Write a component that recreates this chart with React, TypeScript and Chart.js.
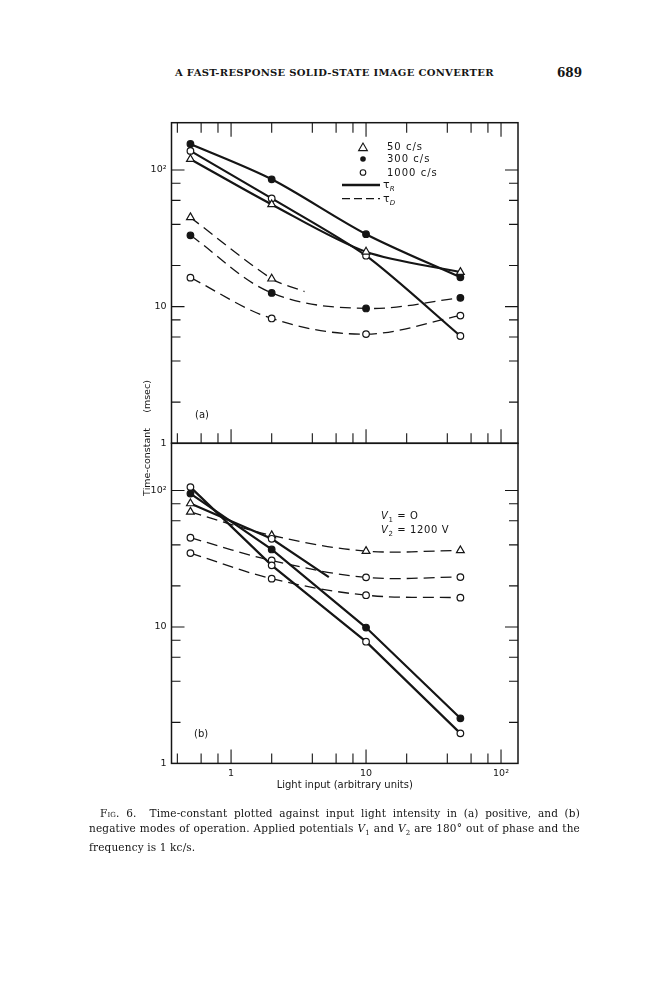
import { useEffect, useRef } from 'react';
import { Chart, registerables } from 'chart.js';

Chart.register(...registerables);

// light input (arbitrary units) at which the points were measured
const lightInput = [0.5, 2, 10, 50];

// (a) positive mode, time-constant in msec
const aRise50 = [120, 56, 25.2, 17.9];
const aRise300 = [155, 85.5, 33.9, 16.4];
const aRise1000 = [138, 62, 23.6, 6.1];
const aDecay50X = [0.5, 2, 3.5];
const aDecay50 = [45, 16, 12.9];
const aDecay300 = [33.3, 12.6, 9.7, 11.6];
const aDecay1000 = [16.3, 8.2, 6.3, 8.6];

// (b) negative mode
const bRise50X = [0.5, 2, 5.3];
const bRise50 = [80.4, 44.3, 23.2];
const bRise300 = [95, 37, 9.9, 2.14];
const bRise1000 = [106, 28.3, 7.8, 1.66];
const bDecay50 = [69.8, 46.9, 36, 36.4];
const bDecayMid = [45.1, 30.7, 23.1, 23.2];
const bDecayLow = [34.8, 22.6, 17.1, 16.4];

const xTicks = [0.4, 0.6, 0.8, 1, 2, 4, 6, 8, 10, 20, 40, 60, 80, 100];
const yTicks = [1, 2, 4, 6, 8, 10, 20, 40, 60, 80, 100];
const decadeLabels: Record<number, string> = { 1: '1', 10: '10', 100: '10²' };

const INK = '#151515';
const SANS = 'DejaVu Sans';
const SERIF = 'DejaVu Serif';

type Mark = 'tri' | 'dot' | 'ring' | 'none';

function series(label: string, xs: number[], ys: number[], marks: Mark[], dashed: boolean, tension: number) {
  return {
    label,
    data: xs.map((x, i) => ({ x, y: ys[i] })),
    borderColor: INK,
    borderWidth: dashed ? 1.3 : 2.2,
    borderDash: dashed ? [11, 6] : [],
    tension,
    fill: false,
    pointStyle: marks.map(m => (m === 'tri' ? 'triangle' : 'circle')),
    pointRadius: marks.map(m => (m === 'tri' ? 4.5 : m === 'none' ? 0 : 3.3)),
    pointBackgroundColor: marks.map(m => (m === 'dot' ? INK : '#fff')),
    pointBorderColor: INK,
    pointBorderWidth: 1.2,
  };
}

const panelA = () => [
  series('50 c/s τR', lightInput, aRise50, ['tri', 'tri', 'tri', 'tri'], false, 0.3),
  series('300 c/s τR', lightInput, aRise300, ['dot', 'dot', 'dot', 'dot'], false, 0.3),
  series('1000 c/s τR', lightInput, aRise1000, ['ring', 'ring', 'ring', 'ring'], false, 0.25),
  series('50 c/s τD', aDecay50X, aDecay50, ['tri', 'tri', 'none'], true, 0.3),
  series('300 c/s τD', lightInput, aDecay300, ['dot', 'dot', 'dot', 'dot'], true, 0.35),
  series('1000 c/s τD', lightInput, aDecay1000, ['ring', 'ring', 'ring', 'ring'], true, 0.35),
];

const panelB = () => [
  series('τR', bRise50X, bRise50, ['tri', 'ring', 'none'], false, 0),
  series('τR', lightInput, bRise300, ['dot', 'dot', 'dot', 'dot'], false, 0),
  series('τR', lightInput, bRise1000, ['ring', 'ring', 'ring', 'ring'], false, 0),
  series('τD', lightInput, bDecay50, ['tri', 'tri', 'tri', 'tri'], true, 0.35),
  series('τD', lightInput, bDecayMid, ['ring', 'ring', 'ring', 'ring'], true, 0.35),
  series('τD', lightInput, bDecayLow, ['ring', 'ring', 'ring', 'ring'], true, 0.35),
];

// box around the plot with ticks pointing inwards
const frame = {
  id: 'frame',
  afterDatasetsDraw(chart: any, _args: any, opts: any) {
    const { ctx, chartArea, scales } = chart;
    const { left, right, top, bottom } = chartArea;
    ctx.save();
    ctx.strokeStyle = INK;
    ctx.lineWidth = 1.5;
    ctx.strokeRect(left, top, right - left, bottom - top);
    ctx.lineWidth = 1.1;
    ctx.beginPath();
    xTicks.forEach(v => {
      const px = scales.x.getPixelForValue(v);
      const len = decadeLabels[v] ? 14 : 10;
      if (opts.top) {
        ctx.moveTo(px, top);
        ctx.lineTo(px, top + len);
      }
      ctx.moveTo(px, bottom);
      ctx.lineTo(px, bottom - len);
    });
    yTicks.forEach(v => {
      if (v === 1) return;
      const py = scales.y.getPixelForValue(v);
      const len = decadeLabels[v] ? 13 : 9;
      ctx.moveTo(left, py);
      ctx.lineTo(left + len, py);
      ctx.moveTo(right, py);
      ctx.lineTo(right - len, py);
    });
    ctx.stroke();
    ctx.restore();
  },
};

type PanelProps = {
  build: () => any[];
  left: number;
  top: number;
  width: number;
  height: number;
  padding: { left: number; right: number; top: number; bottom: number };
  showX: boolean;
  topTicks: boolean;
};

function Panel({ build, left, top, width, height, padding, showX, topTicks }: PanelProps) {
  const canvasRef = useRef<HTMLCanvasElement>(null);

  useEffect(() => {
    if (!canvasRef.current) return;
    const tickFont = { family: SANS, size: 9.5 };
    const chart = new Chart(canvasRef.current, {
      type: 'line',
      data: { datasets: build() },
      options: {
        animation: false,
        responsive: true,
        maintainAspectRatio: false,
        layout: { padding },
        plugins: {
          legend: { display: false },
          tooltip: { enabled: false },
          frame: { top: topTicks },
        } as any,
        scales: {
          x: {
            type: 'logarithmic',
            min: 0.362,
            max: 133.6,
            display: showX,
            afterBuildTicks: (s: any) => {
              s.ticks = xTicks.map(v => ({ value: v }));
            },
            afterFit: (s: any) => {
              if (showX) s.height = 30;
            },
            ticks: {
              autoSkip: false,
              maxRotation: 0,
              padding: 4,
              color: INK,
              font: tickFont,
              callback: (v: any) => decadeLabels[v] ?? '',
            },
            grid: { display: false, drawTicks: false },
            border: { display: false },
            title: {
              display: showX,
              text: 'Light input (arbitrary units)',
              color: INK,
              font: { family: SANS, size: 10 },
              padding: { top: 0, bottom: 2 },
            },
          },
          y: {
            type: 'logarithmic',
            min: 1,
            max: 222,
            afterBuildTicks: (s: any) => {
              s.ticks = yTicks.map(v => ({ value: v }));
            },
            afterFit: (s: any) => {
              s.width = 36;
            },
            ticks: {
              autoSkip: false,
              padding: 5,
              color: INK,
              font: tickFont,
              callback: (v: any) => decadeLabels[v] ?? '',
            },
            grid: { display: false, drawTicks: false },
            border: { display: false },
          },
        },
      } as any,
      plugins: [frame],
    });
    return () => chart.destroy();
  }, []);

  return (
    <div style={{ position: 'absolute', left, top, width, height }}>
      <canvas ref={canvasRef} />
    </div>
  );
}

function Txt({ x, y, children, style }: { x: number; y: number; children: any; style?: any }) {
  return (
    <div
      style={{
        position: 'absolute',
        left: x,
        top: y,
        transform: 'translateY(-50%)',
        lineHeight: 1,
        whiteSpace: 'nowrap',
        color: INK,
        fontFamily: SANS,
        fontSize: 10,
        ...style,
      }}
    >
      {children}
    </div>
  );
}

export default function App() {
  const legendText = { letterSpacing: 1 };
  const caption = { fontFamily: SERIF, fontSize: 10.5, color: '#151515', letterSpacing: 0.15 };
  const justified = { textAlign: 'justify' as const, textAlignLast: 'justify' as const, whiteSpace: 'nowrap' as const };

  return (
    <div style={{ position: 'absolute', left: 0, top: 0, width: 666, height: 1000, background: '#fff', overflow: 'hidden' }}>
      <Txt x={175} y={73} style={{ fontFamily: SERIF, fontWeight: 'bold', fontSize: 10, letterSpacing: 0.3 }}>
        A FAST-RESPONSE SOLID-STATE IMAGE CONVERTER
      </Txt>
      <Txt x={557} y={73} style={{ fontFamily: SERIF, fontWeight: 'bold', fontSize: 12 }}>
        689
      </Txt>

      {/* the y axis labels want about 10.7px above and below the plot */}
      <Panel
        build={panelA}
        left={100}
        top={112}
        width={430}
        height={342}
        padding={{ left: 35.5, right: 12, top: 10.7, bottom: 10.7 }}
        showX={false}
        topTicks={true}
      />
      <Panel
        build={panelB}
        left={100}
        top={432}
        width={430}
        height={368}
        padding={{ left: 35.5, right: 12, top: 11.3, bottom: 6.6 }}
        showX={true}
        topTicks={false}
      />

      {/* legend of panel (a) */}
      <svg width={666} height={1000} style={{ position: 'absolute', left: 0, top: 0, pointerEvents: 'none' }}>
        <polygon points="363,143 358.6,150.6 367.4,150.6" fill="#fff" stroke={INK} strokeWidth={1.1} />
        <circle cx={363} cy={159} r={2.8} fill={INK} />
        <circle cx={363} cy={172.5} r={2.8} fill="#fff" stroke={INK} strokeWidth={1.1} />
        <line x1={342} y1={185} x2={380} y2={185} stroke={INK} strokeWidth={2.5} />
        <line x1={342} y1={198.7} x2={380} y2={198.7} stroke={INK} strokeWidth={1.2} strokeDasharray="8 4" />
      </svg>
      <Txt x={387} y={147} style={legendText}>50 c/s</Txt>
      <Txt x={387} y={159} style={legendText}>300 c/s</Txt>
      <Txt x={387} y={172.5} style={legendText}>1000 c/s</Txt>
      <Txt x={383} y={186} style={{ fontSize: 11 }}>
        τ<sub style={{ fontSize: 7, fontStyle: 'italic' }}>R</sub>
      </Txt>
      <Txt x={383} y={199.5} style={{ fontSize: 11 }}>
        τ<sub style={{ fontSize: 7, fontStyle: 'italic' }}>D</sub>
      </Txt>

      <Txt x={195} y={415}>(a)</Txt>
      <Txt x={194} y={734}>(b)</Txt>

      <Txt x={381} y={517} style={{ letterSpacing: 0.6 }}>
        <i>V</i><sub style={{ fontSize: 7 }}>1</sub> = O
      </Txt>
      <Txt x={381} y={531} style={{ letterSpacing: 0.6 }}>
        <i>V</i><sub style={{ fontSize: 7 }}>2</sub> = 1200 V
      </Txt>

      <div
        style={{
          position: 'absolute',
          left: 146.5,
          top: 438,
          transform: 'translate(-50%, -50%) rotate(-90deg)',
          whiteSpace: 'pre',
          fontFamily: SANS,
          fontSize: 9.5,
          lineHeight: 1,
          color: INK,
        }}
      >
        {'Time-constant     (msec)'}
      </div>

      <div style={{ position: 'absolute', left: 89, top: 806, width: 491, ...caption, lineHeight: '14.5px' }}>
        <div style={{ ...justified, paddingLeft: 11 }}>
          <span style={{ fontVariant: 'small-caps' }}>Fig.</span> 6.&nbsp; Time-constant plotted against input light intensity in (a) positive, and (b)
        </div>
        <div style={justified}>
          negative modes of operation. Applied potentials <i>V</i>
          <sub style={{ fontSize: 7 }}>1</sub> and <i>V</i>
          <sub style={{ fontSize: 7 }}>2</sub> are 180° out of phase and the
        </div>
        <div>frequency is 1 kc/s.</div>
      </div>
    </div>
  );
}
